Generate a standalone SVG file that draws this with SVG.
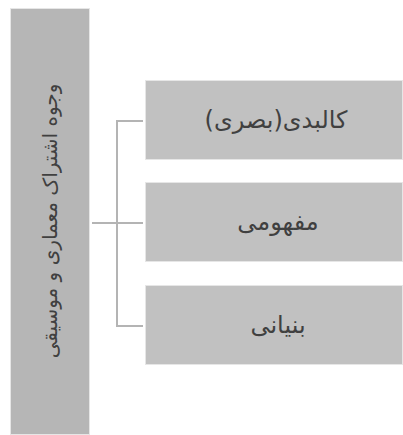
<svg xmlns="http://www.w3.org/2000/svg" width="403" height="435" viewBox="0 0 403 435">
<style>
.root{fill:#b6b6b6;stroke:#e6e6e6;stroke-width:1}
.box{fill:#c1c1c1;stroke:#e6e6e6;stroke-width:1}
.t{font-family:"DejaVu Sans","Noto Sans",sans-serif;font-size:20px;fill:#404040;text-anchor:middle;direction:rtl}
.b{font-size:24px}
.c{fill:none;stroke:#b4b4b4;stroke-width:2}
</style>
<rect width="403" height="435" fill="#ffffff"/>
<g id="connectors">
<path class="c" d="M143 121 H117 V326 H143"/>
<path class="c" d="M92 223 H143"/>
</g>
<g id="root">
<rect class="root" x="10.5" y="8.5" width="79" height="426"/>
<text class="t" transform="translate(57 221) rotate(-90)">وجوه اشتراک معماری و موسیقی</text>
</g>
<g id="n1">
<rect class="box" x="145.5" y="80.5" width="257" height="79"/>
<text class="t b" x="276" y="128">کالبدی(بصری)</text>
</g>
<g id="n2">
<rect class="box" x="145.5" y="182.5" width="257" height="79"/>
<text class="t b" x="278" y="230">مفهومی</text>
</g>
<g id="n3">
<rect class="box" x="145.5" y="285.5" width="257" height="79"/>
<text class="t b" x="278" y="333">بنیانی</text>
</g>
</svg>
